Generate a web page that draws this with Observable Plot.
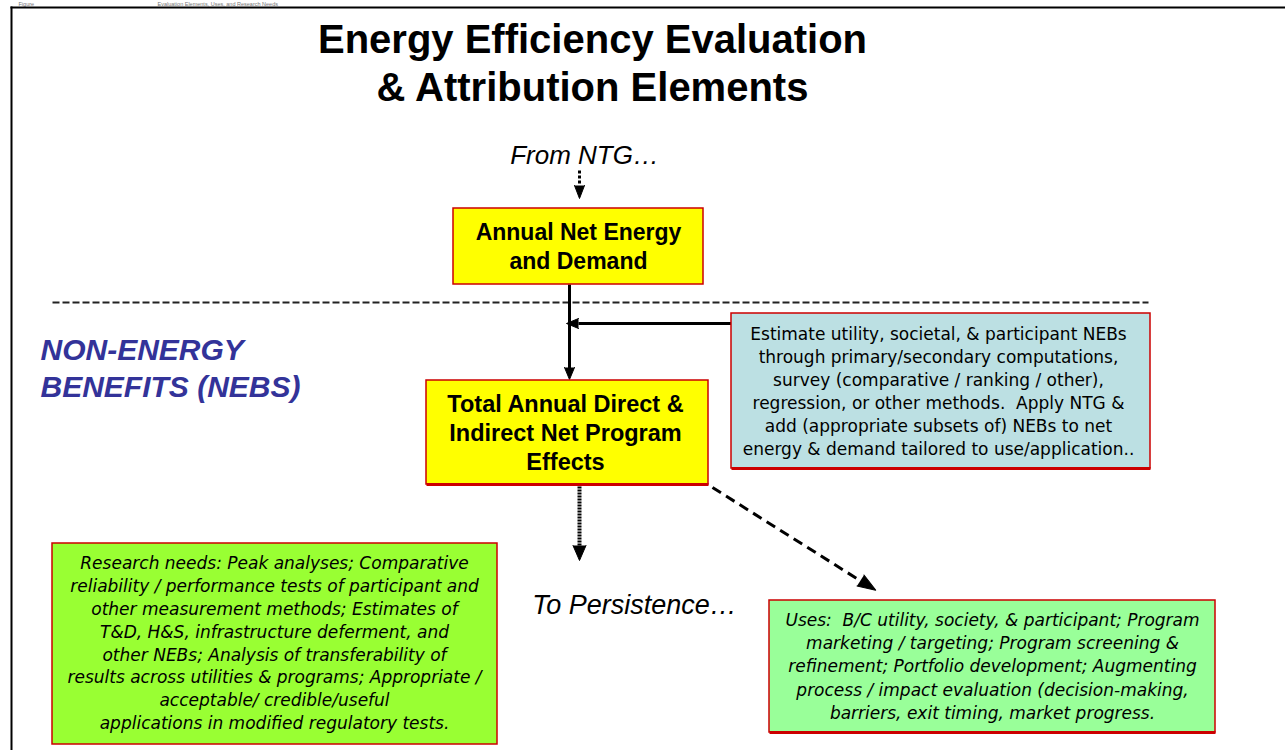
<!DOCTYPE html>
<html>
<head>
<meta charset="utf-8">
<script src="https://cdn.jsdelivr.net/npm/d3@7"></script>
<script src="https://cdn.jsdelivr.net/npm/@observablehq/plot@0.6"></script>
<style>
  html, body { margin: 0; padding: 0; background: #fff; overflow: hidden; }
  #chart svg { display: block; }
</style>
</head>
<body>
<div id="chart"></div>
<script>
// ---------- text content ----------
const captionParts = ["Figure", "Evaluation Elements, Uses, and Research Needs"];
const titleLines = ["Energy Efficiency Evaluation", "& Attribution Elements"];
const fromLabel = ["From NTG…"];
const toLabel = ["To Persistence…"];
const nebsLines = ["NON-ENERGY", "BENEFITS (NEBS)"];
const netBoxLines = ["Annual Net Energy", "and Demand"];
const totalBoxLines = ["Total Annual Direct &", "Indirect Net Program", "Effects"];
const estimateLines = [
  "Estimate utility, societal, & participant NEBs",
  "through primary/secondary computations,",
  "survey (comparative / ranking / other),",
  "regression, or other methods.  Apply NTG &",
  "add (appropriate subsets of) NEBs to net",
  "energy & demand tailored to use/application.."
];
const researchLines = [
  "Research needs: Peak analyses; Comparative",
  "reliability / performance tests of participant and",
  "other measurement methods; Estimates of",
  "T&D, H&S, infrastructure deferment, and",
  "other NEBs; Analysis of transferability of",
  "results across utilities & programs; Appropriate /",
  "acceptable/ credible/useful",
  "applications in modified regulatory tests."
];
const usesLines = [
  "Uses:  B/C utility, society, & participant; Program",
  "marketing / targeting; Program screening &",
  "refinement; Portfolio development; Augmenting",
  "process / impact evaluation (decision-making,",
  "barriers, exit timing, market progress."
];

// ---------- diagram layout (page coordinates) ----------
const W = 1285, H = 750;
const boxes = [
  {id: "net",      x1: 453, x2: 703,  y1: 208, y2: 284, fill: "#ffff00"},
  {id: "total",    x1: 426, x2: 708,  y1: 380, y2: 484, fill: "#ffff00"},
  {id: "estimate", x1: 731, x2: 1150, y1: 313, y2: 468, fill: "#bce0e3"},
  {id: "research", x1: 52,  x2: 497,  y1: 543, y2: 744, fill: "#99ff33"},
  {id: "uses",     x1: 769, x2: 1215, y1: 600, y2: 732, fill: "#99ff99"}
];
const frameLines = [
  {x1: 10, y1: 7, x2: W, y2: 7},
  {x1: 11, y1: 6, x2: 11, y2: H}
];
const solidLinks = [
  {x1: 569, y1: 284, x2: 569, y2: 368},
  {x1: 731, y1: 323, x2: 578, y2: 323}
];
const shortDash = [{x1: 579, y1: 170, x2: 579, y2: 185}];
const dottedLink = [{x1: 579, y1: 486, x2: 579, y2: 545}];
const diagLink = [{x1: 712, y1: 487, x2: 861, y2: 581}];
const separator = [{x1: 52, y1: 302, x2: 1148, y2: 302}];
// arrow heads: base point, direction (degrees clockwise from up), length
const smallHeads = [
  {x: 579, y: 185, rot: 180, len: 13},
  {x: 569, y: 367, rot: 180, len: 12},
  {x: 578, y: 323, rot: 270, len: 12}
];
const bigHeads = [
  {x: 579, y: 545, rot: 180, len: 15},
  {x: 860, y: 580, rot: 122.5, len: 18}
];
const bottomEdges = [
  {x1: 731, x2: 1150, y: 468},
  {x1: 769, x2: 1215, y: 732},
  {x1: 426, x2: 708,  y: 484}
];

function rows(lines, x, y0, step) {
  return lines.map((t, i) => ({text: t, x, y: y0 + i * step}));
}

const SANS = "'Liberation Sans', Arial, Helvetica, sans-serif";
const WIDE = "'DejaVu Sans', Verdana, sans-serif";

const chart = Plot.plot({
  width: W, height: H,
  margin: 0,
  x: {domain: [0, W], range: [0, W], axis: null},
  y: {domain: [0, H], range: [0, H], axis: null},
  length: {type: "identity"},
  style: {background: "white"},
  marks: [
    // caption above the frame (only a thin strip in the source)
    Plot.text([{text: captionParts[0], x: 18, y: 5}, {text: captionParts[1], x: 157, y: 5}],
      {x: "x", y: "y", text: "text", textAnchor: "start", lineAnchor: "bottom",
       fontFamily: SANS, fontSize: 5.5, fill: "#777"}),
    // frame
    Plot.link(frameLines, {x1: "x1", y1: "y1", x2: "x2", y2: "y2", stroke: "black", strokeWidth: 2}),
    // separator
    Plot.link(separator, {x1: "x1", y1: "y1", x2: "x2", y2: "y2", stroke: "#222", strokeWidth: 2, strokeDasharray: "7,3"}),
    // connectors
    Plot.link(solidLinks, {x1: "x1", y1: "y1", x2: "x2", y2: "y2", stroke: "black", strokeWidth: 3}),
    Plot.link(shortDash, {x1: "x1", y1: "y1", x2: "x2", y2: "y2", stroke: "black", strokeWidth: 3, strokeDasharray: "3,2"}),
    Plot.link(dottedLink, {x1: "x1", y1: "y1", x2: "x2", y2: "y2", stroke: "black", strokeWidth: 4, strokeDasharray: "2,1"}),
    Plot.link(diagLink, {x1: "x1", y1: "y1", x2: "x2", y2: "y2", stroke: "black", strokeWidth: 3, strokeDasharray: "10,6"}),
    Plot.vector(smallHeads, {x: "x", y: "y", rotate: "rot", length: "len", anchor: "start", shape: "spike", r: 5, fill: "black", stroke: "black", strokeWidth: 1}),
    Plot.vector(bigHeads, {x: "x", y: "y", rotate: "rot", length: "len", anchor: "start", shape: "spike", r: 6.5, fill: "black", stroke: "black", strokeWidth: 1}),
    // boxes
    Plot.rect(boxes, {x1: "x1", x2: "x2", y1: "y1", y2: "y2", fill: "fill", stroke: "#cc0000", strokeWidth: 1.5}),
    Plot.link(bottomEdges, {x1: "x1", x2: "x2", y1: "y", y2: "y", stroke: "#cc0000", strokeWidth: 3}),
    // title
    Plot.text(rows(titleLines, 592, 40, 48), {x: "x", y: "y", text: "text", fontFamily: SANS, fontWeight: "bold", fontSize: 40, fill: "black", lineAnchor: "middle"}),
    // from / to labels
    Plot.text(rows(fromLabel, 584, 155, 0), {x: "x", y: "y", text: "text", fontFamily: SANS, fontStyle: "italic", fontSize: 26, fill: "black", lineAnchor: "middle"}),
    Plot.text(rows(toLabel, 634, 605, 0), {x: "x", y: "y", text: "text", fontFamily: SANS, fontStyle: "italic", fontSize: 27, fill: "black", lineAnchor: "middle"}),
    // NEBs label
    Plot.text(rows(nebsLines, 40, 350, 37), {x: "x", y: "y", text: "text", textAnchor: "start", fontFamily: SANS, fontStyle: "italic", fontWeight: "bold", fontSize: 30, fill: "#333399", lineAnchor: "middle"}),
    // box texts
    Plot.text(rows(netBoxLines, 578, 232, 29), {x: "x", y: "y", text: "text", fontFamily: SANS, fontWeight: "bold", fontSize: 23, fill: "black", lineAnchor: "middle"}),
    Plot.text(rows(totalBoxLines, 565, 404, 29), {x: "x", y: "y", text: "text", fontFamily: SANS, fontWeight: "bold", fontSize: 23.5, fill: "black", lineAnchor: "middle"}),
    Plot.text(rows(estimateLines, 938, 334, 23), {x: "x", y: "y", text: "text", fontFamily: WIDE, fontSize: 17, fill: "black", lineAnchor: "middle"}),
    Plot.text(rows(researchLines, 274, 563, 22.9), {x: "x", y: "y", text: "text", fontFamily: WIDE, fontStyle: "italic", fontSize: 17, fill: "black", lineAnchor: "middle"}),
    Plot.text(rows(usesLines, 992, 620, 23.2), {x: "x", y: "y", text: "text", fontFamily: WIDE, fontStyle: "italic", fontSize: 17, fill: "black", lineAnchor: "middle"})
  ]
});
document.getElementById("chart").appendChild(chart);
</script>
</body>
</html>
